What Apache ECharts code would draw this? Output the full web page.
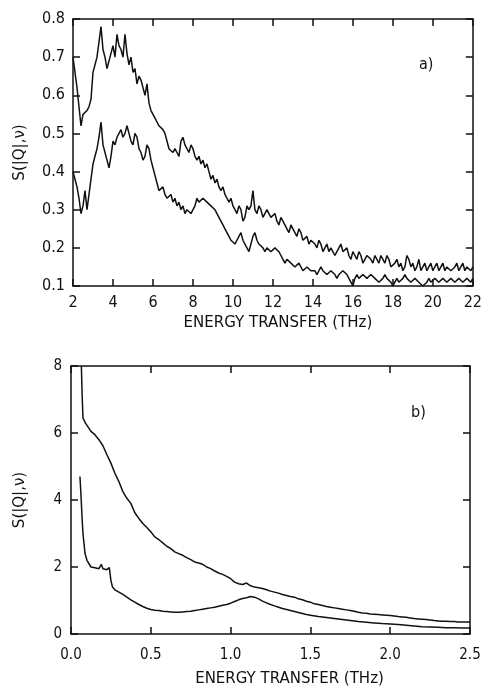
<!DOCTYPE html>
<html>
<head>
    <meta charset="utf-8">
    <title>S(|Q|,v)</title>
    <script src="https://cdn.jsdelivr.net/npm/echarts@6/dist/echarts.min.js"></script>
    <style>
        html, body { margin: 0; padding: 0; background: #fff; }
    </style>
</head>
<body>
<div id="main" style="width: 485px;height:691px;"></div>
<script type="text/javascript">

    // panel a) : 2 - 22 THz, read every 0.1 THz
    var xA = [2.0,2.1,2.2,2.3,2.4,2.5,2.6,2.7,2.8,2.9,3.0,3.1,3.2,3.3,3.4,3.5,3.6,3.7,3.8,3.9,
        4.0,4.1,4.2,4.3,4.4,4.5,4.6,4.7,4.8,4.9,5.0,5.1,5.2,5.3,5.4,5.5,5.6,5.7,5.8,5.9,
        6.0,6.1,6.2,6.3,6.4,6.5,6.6,6.7,6.8,6.9,7.0,7.1,7.2,7.3,7.4,7.5,7.6,7.7,7.8,7.9,
        8.0,8.1,8.2,8.3,8.4,8.5,8.6,8.7,8.8,8.9,9.0,9.1,9.2,9.3,9.4,9.5,9.6,9.7,9.8,9.9,
        10.0,10.1,10.2,10.3,10.4,10.5,10.6,10.7,10.8,10.9,11.0,11.1,11.2,11.3,11.4,11.5,11.6,11.7,11.8,11.9,
        12.0,12.1,12.2,12.3,12.4,12.5,12.6,12.7,12.8,12.9,13.0,13.1,13.2,13.3,13.4,13.5,13.6,13.7,13.8,13.9,
        14.0,14.1,14.2,14.3,14.4,14.5,14.6,14.7,14.8,14.9,15.0,15.1,15.2,15.3,15.4,15.5,15.6,15.7,15.8,15.9,
        16.0,16.1,16.2,16.3,16.4,16.5,16.6,16.7,16.8,16.9,17.0,17.1,17.2,17.3,17.4,17.5,17.6,17.7,17.8,17.9,
        18.0,18.1,18.2,18.3,18.4,18.5,18.6,18.7,18.8,18.9,19.0,19.1,19.2,19.3,19.4,19.5,19.6,19.7,19.8,19.9,
        20.0,20.1,20.2,20.3,20.4,20.5,20.6,20.7,20.8,20.9,21.0,21.1,21.2,21.3,21.4,21.5,21.6,21.7,21.8,21.9,22.0];
    var upperA = [0.70,0.66,0.62,0.57,0.52,0.55,0.55,0.56,0.57,0.59,
        0.66,0.68,0.70,0.74,0.78,0.72,0.70,0.67,0.69,0.71,
        0.73,0.70,0.76,0.73,0.72,0.70,0.76,0.71,0.68,0.70,
        0.66,0.67,0.63,0.65,0.64,0.62,0.60,0.63,0.58,0.56,
        0.55,0.54,0.53,0.52,0.52,0.51,0.50,0.48,0.46,0.46,
        0.45,0.46,0.45,0.44,0.48,0.49,0.47,0.46,0.45,0.47,
        0.46,0.44,0.43,0.44,0.42,0.43,0.41,0.42,0.40,0.38,
        0.39,0.37,0.38,0.36,0.35,0.36,0.34,0.33,0.32,0.33,
        0.31,0.30,0.29,0.31,0.30,0.27,0.28,0.31,0.30,0.31,
        0.35,0.30,0.29,0.31,0.30,0.28,0.28,0.30,0.29,0.28,
        0.28,0.29,0.27,0.26,0.28,0.27,0.26,0.25,0.24,0.26,
        0.25,0.24,0.23,0.25,0.24,0.22,0.22,0.23,0.21,0.22,
        0.22,0.21,0.20,0.22,0.21,0.19,0.20,0.21,0.19,0.20,
        0.20,0.18,0.19,0.20,0.21,0.19,0.19,0.20,0.18,0.17,
        0.19,0.18,0.17,0.19,0.18,0.16,0.17,0.18,0.18,0.17,
        0.16,0.18,0.17,0.16,0.18,0.17,0.16,0.18,0.17,0.15,
        0.15,0.16,0.17,0.15,0.16,0.14,0.15,0.18,0.17,0.15,
        0.16,0.14,0.15,0.17,0.14,0.15,0.16,0.14,0.15,0.16,
        0.14,0.15,0.16,0.14,0.15,0.16,0.14,0.15,0.15,0.14,
        0.14,0.15,0.16,0.14,0.15,0.16,0.14,0.15,0.15,0.14,0.15];
    var lowerA = [0.40,0.38,0.36,0.33,0.29,0.31,0.35,0.30,0.34,0.38,
        0.42,0.44,0.46,0.49,0.53,0.47,0.45,0.43,0.41,0.44,
        0.48,0.47,0.49,0.50,0.51,0.49,0.50,0.52,0.50,0.48,
        0.47,0.50,0.49,0.46,0.45,0.43,0.44,0.47,0.46,0.43,
        0.41,0.39,0.37,0.35,0.35,0.36,0.34,0.33,0.33,0.34,
        0.32,0.33,0.31,0.32,0.30,0.31,0.29,0.30,0.30,0.29,
        0.29,0.31,0.33,0.32,0.32,0.33,0.33,0.32,0.32,0.31,
        0.31,0.30,0.29,0.28,0.27,0.26,0.25,0.24,0.23,0.22,
        0.22,0.21,0.22,0.23,0.24,0.22,0.21,0.20,0.19,0.21,
        0.23,0.24,0.22,0.21,0.21,0.20,0.19,0.20,0.20,0.19,
        0.19,0.20,0.20,0.19,0.18,0.17,0.16,0.17,0.17,0.16,
        0.16,0.15,0.15,0.16,0.16,0.14,0.14,0.15,0.15,0.14,
        0.14,0.14,0.13,0.14,0.15,0.14,0.14,0.13,0.13,0.14,
        0.14,0.13,0.12,0.13,0.13,0.14,0.14,0.13,0.12,0.11,
        0.10,0.12,0.13,0.12,0.12,0.13,0.13,0.12,0.12,0.13,
        0.13,0.12,0.12,0.11,0.11,0.12,0.13,0.12,0.12,0.11,
        0.10,0.11,0.12,0.11,0.11,0.12,0.13,0.12,0.12,0.11,
        0.11,0.12,0.12,0.11,0.11,0.10,0.10,0.11,0.12,0.11,
        0.11,0.12,0.12,0.11,0.11,0.12,0.12,0.11,0.11,0.12,
        0.12,0.11,0.11,0.12,0.12,0.11,0.11,0.12,0.12,0.11,0.12];

    // panel b) : 0 - 2.5 THz
    var xBUpper = [0.065,0.070,0.075,0.090,0.100,0.125,0.150,0.175,0.200,0.225,0.250,0.275,0.300,0.325,0.350,0.375,0.400,0.425,0.450,0.475,
        0.500,0.525,0.550,0.575,0.600,0.625,0.650,0.675,0.700,0.725,0.750,0.775,0.800,0.825,0.850,0.875,0.900,0.925,0.950,0.975,
        1.000,1.025,1.050,1.075,1.100,1.125,1.150,1.175,1.200,1.225,1.250,1.275,1.300,1.325,1.350,1.375,1.400,1.425,1.450,1.475,
        1.500,1.525,1.550,1.575,1.600,1.625,1.650,1.675,1.700,1.725,1.750,1.775,1.800,1.825,1.850,1.875,1.900,1.925,1.950,1.975,
        2.000,2.025,2.050,2.075,2.100,2.125,2.150,2.175,2.200,2.225,2.250,2.275,2.300,2.325,2.350,2.375,2.400,2.425,2.450,2.475,2.500];
    var upperB = [8.00,7.10,6.45,6.30,6.25,6.05,5.95,5.80,5.62,5.35,5.10,4.80,4.55,4.25,4.05,3.90,3.62,3.45,3.30,3.18,
        3.05,2.90,2.82,2.72,2.62,2.55,2.45,2.40,2.35,2.28,2.22,2.15,2.12,2.08,2.00,1.95,1.88,1.82,1.78,1.72,
        1.65,1.55,1.50,1.48,1.52,1.44,1.40,1.38,1.36,1.32,1.28,1.25,1.22,1.18,1.15,1.12,1.10,1.05,1.02,0.98,
        0.95,0.90,0.88,0.85,0.82,0.80,0.78,0.76,0.74,0.72,0.70,0.68,0.65,0.63,0.62,0.60,0.59,0.58,0.57,0.56,
        0.55,0.54,0.52,0.51,0.50,0.48,0.46,0.45,0.44,0.43,0.42,0.40,0.39,0.38,0.38,0.37,0.37,0.36,0.36,0.36,0.36];
    var xBLower = [0.056,0.062,0.069,0.075,0.088,0.100,0.125,0.150,0.175,0.190,0.200,0.225,0.240,0.250,0.260,0.275,0.300,0.325,0.350,0.375,
        0.400,0.425,0.450,0.475,0.500,0.525,0.550,0.575,0.600,0.625,0.650,0.675,0.700,0.725,0.750,0.775,0.800,0.825,0.850,0.875,
        0.900,0.925,0.950,0.975,1.000,1.025,1.050,1.075,1.100,1.125,1.150,1.175,1.200,1.225,1.250,1.275,1.300,1.325,1.350,1.375,
        1.400,1.425,1.450,1.475,1.500,1.550,1.600,1.650,1.700,1.750,1.800,1.850,1.900,1.950,2.000,2.050,2.100,2.150,2.200,2.250,
        2.300,2.350,2.400,2.450,2.500];
    var lowerB = [4.70,4.20,3.50,3.00,2.40,2.20,2.00,1.98,1.95,2.08,1.95,1.92,1.98,1.60,1.40,1.32,1.25,1.18,1.10,1.02,
        0.95,0.88,0.82,0.77,0.73,0.71,0.70,0.68,0.67,0.66,0.65,0.65,0.66,0.67,0.68,0.70,0.72,0.74,0.76,0.78,
        0.80,0.83,0.86,0.88,0.92,0.97,1.02,1.06,1.08,1.12,1.10,1.05,0.98,0.93,0.88,0.84,0.80,0.76,0.73,0.70,
        0.67,0.64,0.61,0.58,0.56,0.52,0.49,0.46,0.43,0.40,0.37,0.35,0.33,0.31,0.30,0.28,0.26,0.24,0.22,0.21,
        0.20,0.19,0.19,0.18,0.18];

    function pairs(xs, ys) {
        var out = [];
        for (var i = 0; i < xs.length; i++) {
            out.push([xs[i], ys[i]]);
        }
        return out;
    }

    var ink = '#111';
    var labelFont = "'DejaVu Sans Condensed', 'Liberation Sans Narrow', sans-serif";
    var nameFont = "'DejaVu Sans', sans-serif";

    function frameAxis(opt, gridIndex, position, min, max, interval, showLabel, labelSize, labelMargin, fmt) {
        var a = {
            type: 'value',
            gridIndex: gridIndex,
            position: position,
            min: min,
            max: max,
            interval: interval,
            splitLine: { show: false },
            axisLine: { show: true, onZero: false, lineStyle: { color: ink, width: 1.5 } },
            axisTick: { show: true, inside: true, length: 7, lineStyle: { color: ink, width: 1.5 } },
            axisLabel: {
                show: showLabel,
                color: ink,
                fontFamily: labelFont,
                fontSize: labelSize,
                margin: labelMargin,
                formatter: fmt
            }
        };
        for (var k in opt) a[k] = opt[k];
        return a;
    }

    var fmt1 = function (v) { return v.toFixed(1); };
    var fmt0 = function (v) { return String(Math.round(v)); };

    var myChart = echarts.init(document.getElementById('main'));

    var option = {
        backgroundColor: '#fff',
        animation: false,
        grid: [
            { left: 73, top: 19, width: 403, height: 267 },
            { left: 71, top: 366, width: 399, height: 268 }
        ],
        title: [
            { text: 'a)', left: 414, top: 52, textStyle: { fontFamily: labelFont, fontSize: 16, fontWeight: 'normal', color: ink } },
            { text: 'b)', left: 406, top: 400, textStyle: { fontFamily: labelFont, fontSize: 16, fontWeight: 'normal', color: ink } }
        ],
        xAxis: [
            frameAxis({
                name: 'ENERGY TRANSFER (THz)',
                nameLocation: 'middle',
                nameGap: 30,
                nameTextStyle: { fontFamily: nameFont, fontSize: 15, color: ink, padding: [0, 0, 0, 10] }
            }, 0, 'bottom', 2, 22, 2, true, 16, 9, fmt0),
            frameAxis({}, 0, 'top', 2, 22, 2, false, 16, 8, fmt0),
            frameAxis({
                name: 'ENERGY TRANSFER (THz)',
                nameLocation: 'middle',
                nameGap: 38,
                nameTextStyle: { fontFamily: nameFont, fontSize: 15, color: ink, padding: [0, 0, 0, 38] }
            }, 1, 'bottom', 0, 2.5, 0.5, true, 15, 14, fmt1),
            frameAxis({}, 1, 'top', 0, 2.5, 0.5, false, 15, 8, fmt1)
        ],
        yAxis: [
            frameAxis({
                name: 'S(|Q|,\u03BD)',
                nameLocation: 'middle',
                nameGap: 45,
                nameTextStyle: { fontFamily: nameFont, fontSize: 15, color: ink }
            }, 0, 'left', 0.1, 0.8, 0.1, true, 16, 8, fmt1),
            frameAxis({}, 0, 'right', 0.1, 0.8, 0.1, false, 16, 8, fmt1),
            frameAxis({
                name: 'S(|Q|,\u03BD)',
                nameLocation: 'middle',
                nameGap: 43,
                nameTextStyle: { fontFamily: nameFont, fontSize: 15, color: ink }
            }, 1, 'left', 0, 8, 2, true, 15, 9, fmt0),
            frameAxis({}, 1, 'right', 0, 8, 2, false, 15, 8, fmt0)
        ],
        series: [
            { type: 'line', xAxisIndex: 0, yAxisIndex: 0, data: pairs(xA, upperA), showSymbol: false, symbol: 'none', lineStyle: { color: ink, width: 1.5 } },
            { type: 'line', xAxisIndex: 0, yAxisIndex: 0, data: pairs(xA, lowerA), showSymbol: false, symbol: 'none', lineStyle: { color: ink, width: 1.5 } },
            { type: 'line', xAxisIndex: 2, yAxisIndex: 2, data: pairs(xBUpper, upperB), showSymbol: false, symbol: 'none', lineStyle: { color: ink, width: 1.5 } },
            { type: 'line', xAxisIndex: 2, yAxisIndex: 2, data: pairs(xBLower, lowerB), showSymbol: false, symbol: 'none', lineStyle: { color: ink, width: 1.5 } }
        ]
    };

    myChart.setOption(option);
</script>
</body>
</html>
